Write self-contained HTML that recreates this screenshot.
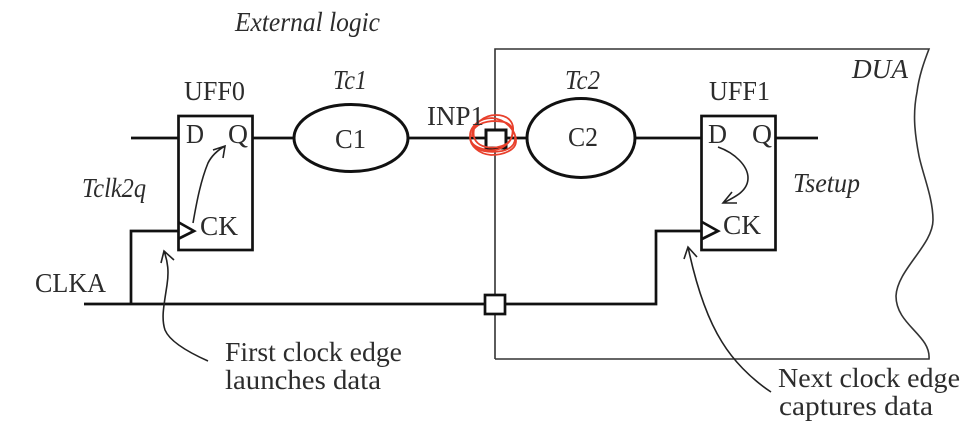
<!DOCTYPE html>
<html>
<head>
<meta charset="utf-8">
<style>
html,body{margin:0;padding:0;background:#fff;width:960px;height:424px;overflow:hidden}
svg{display:block}
text{font-family:"Liberation Serif",serif;fill:#2c2c2c;font-size:27px}
.i{font-style:italic}
</style>
</head>
<body>
<svg width="960" height="424" viewBox="0 0 960 424" xmlns="http://www.w3.org/2000/svg">
<!-- DUA boundary -->
<path d="M495 359V49H929C924 62 919 76 917 92C913 112 914 130 919 156C923 175 933 198 933 220C933 245 897 270 896 296C896 325 931 335 929 359H495" fill="none" stroke="#333" stroke-width="1.600"/>
<!-- wires -->
<g fill="none" stroke="#111" stroke-width="2.700">
<path d="M131 138H178M252 138H294M408 138H486M506 138H527M634 138H701M775 138H818"/>
<path d="M84 304H485M505 304H656V231H701M131 304V231H178"/>
<rect x="178.500" y="116" width="74" height="134"/>
<rect x="701.500" y="116" width="74" height="134"/>
<path d="M178 222L194 231L178 239"/>
<path d="M702 222L718 231L702 239"/>
<ellipse cx="351" cy="138" rx="57" ry="33.500" fill="#fff" stroke-width="3"/>
<ellipse cx="581" cy="138" rx="54" ry="39.500" fill="#fff" stroke-width="3"/>
<rect x="486" y="130" width="20" height="18" fill="#fff" stroke-width="3"/>
<rect x="485" y="295" width="20" height="19" fill="#fff"/>
</g>
<!-- thin arrows -->
<g fill="none" stroke="#222" stroke-width="1.600">
<path d="M193 223C197 200 201 180 208 163C212 155 218 150 225 146M213 150L225 146L223 158"/>
<path d="M718 147C735 153 748 166 748 178C748 191 735 197 723 203M732 192L723 203L737 203"/>
<path d="M208 361C190 353 170 342 165 330C161 318 164 305 167 285C169 272 168 262 164 251M161 263L164 251L174 260"/>
<path d="M771 392C750 378 733 360 722 342C705 315 695 280 688 247M684 259L688 247L697 257"/>
</g>
<!-- red scribble -->
<g fill="none" stroke="#e8402c" stroke-width="1.800">
<path d="M472 137C472 124 484 115 496 115C508 115 514 122 513 131C512 144 500 152 487 150C476 148 470 144 470 136C470 126 480 118 492 118C505 119 516 130 516 141C516 150 504 155 491 155C479 154 470 146 470 137"/>
<path d="M474 129C480 121 494 120 504 122C511 124 514 128 512 136C510 146 496 149 486 147C477 145 472 139 474 129Z"/>
<path d="M471 142C476 152 490 153 502 151C511 149 516 144 515 136"/>
</g>
<!-- labels -->
<text class="i" x="235" y="31" textLength="145" lengthAdjust="spacingAndGlyphs">External logic</text>
<text class="i" x="333" y="89" textLength="34" lengthAdjust="spacingAndGlyphs">Tc1</text>
<text class="i" x="565" y="89" textLength="35" lengthAdjust="spacingAndGlyphs">Tc2</text>
<text x="184" y="100" textLength="61" lengthAdjust="spacingAndGlyphs">UFF0</text>
<text x="709" y="100" textLength="61" lengthAdjust="spacingAndGlyphs">UFF1</text>
<text x="186" y="143" textLength="18" lengthAdjust="spacingAndGlyphs">D</text>
<text x="228" y="143" textLength="20" lengthAdjust="spacingAndGlyphs">Q</text>
<text x="200" y="235" textLength="38" lengthAdjust="spacingAndGlyphs">CK</text>
<text x="708" y="143" textLength="19" lengthAdjust="spacingAndGlyphs">D</text>
<text x="752" y="143" textLength="20" lengthAdjust="spacingAndGlyphs">Q</text>
<text x="723" y="234" textLength="38" lengthAdjust="spacingAndGlyphs">CK</text>
<text x="335" y="148" textLength="31" lengthAdjust="spacingAndGlyphs">C1</text>
<text x="568" y="146" textLength="30" lengthAdjust="spacingAndGlyphs">C2</text>
<text x="427" y="125" textLength="57" lengthAdjust="spacingAndGlyphs">INP1</text>
<text x="35" y="292" textLength="71" lengthAdjust="spacingAndGlyphs">CLKA</text>
<text class="i" x="82" y="197" textLength="64" lengthAdjust="spacingAndGlyphs">Tclk2q</text>
<text class="i" x="793" y="192" textLength="67" lengthAdjust="spacingAndGlyphs">Tsetup</text>
<text class="i" x="852" y="78" textLength="56" lengthAdjust="spacingAndGlyphs">DUA</text>
<text x="225" y="361" textLength="177" lengthAdjust="spacingAndGlyphs">First clock edge</text>
<text x="225" y="389" textLength="156" lengthAdjust="spacingAndGlyphs">launches data</text>
<text x="778" y="387" textLength="182" lengthAdjust="spacingAndGlyphs">Next clock edge</text>
<text x="779" y="415" textLength="154" lengthAdjust="spacingAndGlyphs">captures data</text>
</svg>
</body>
</html>
